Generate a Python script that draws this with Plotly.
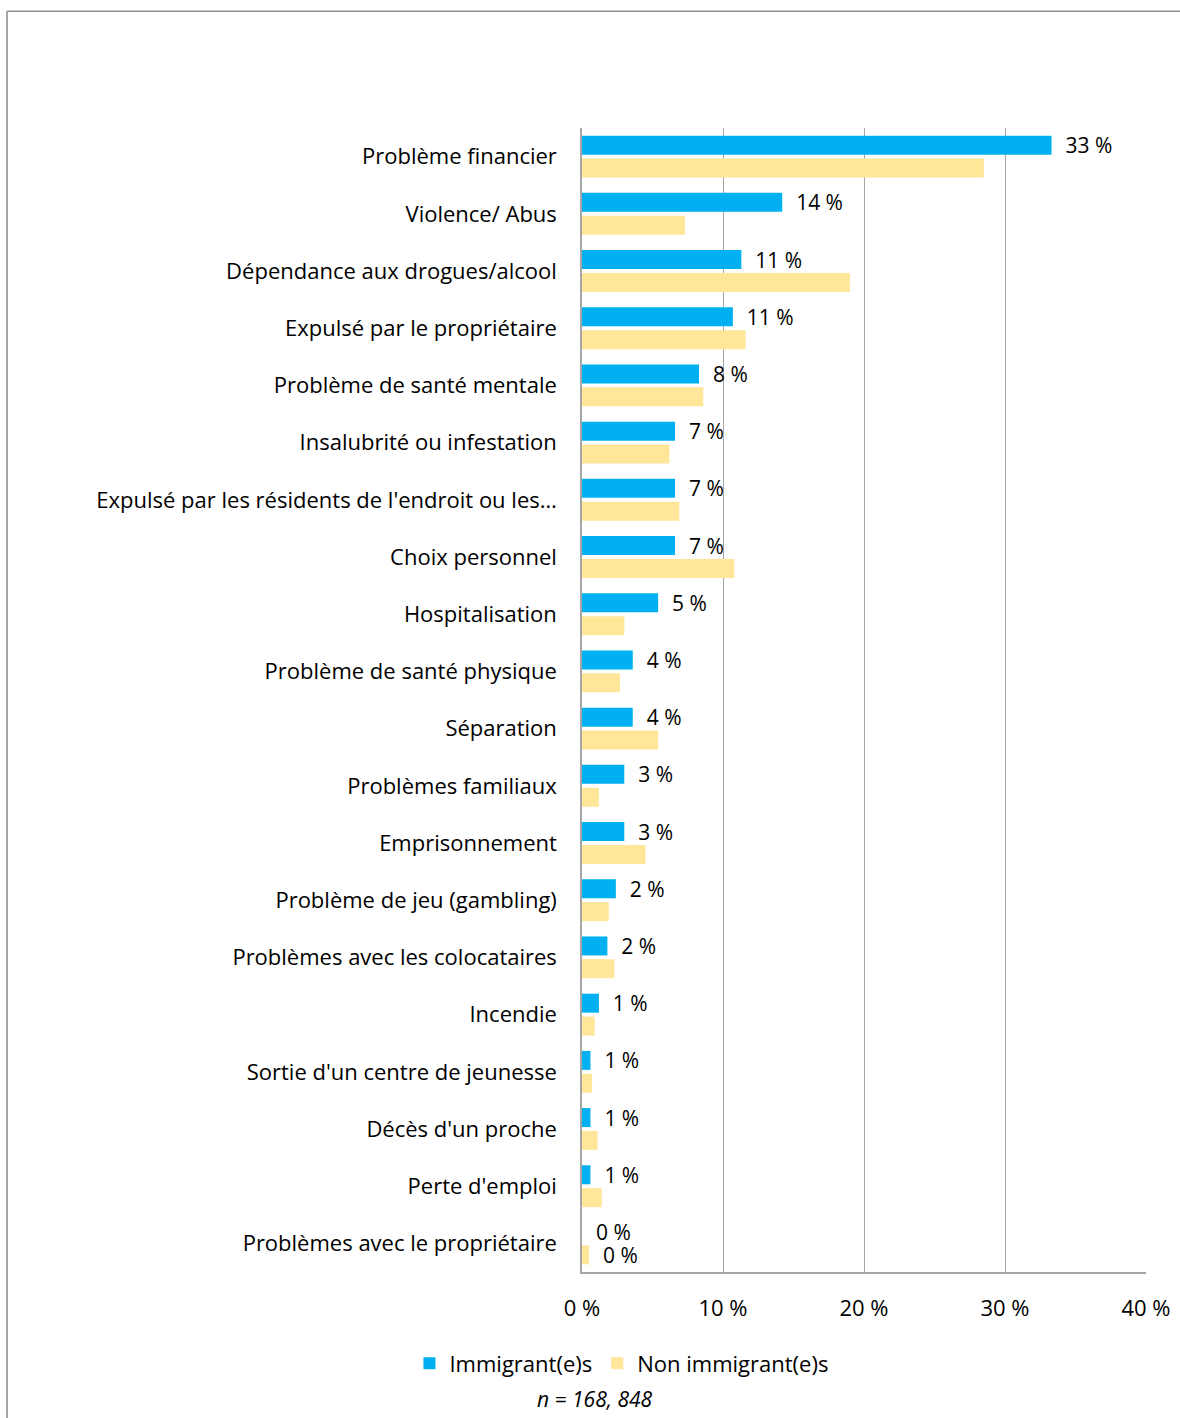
import plotly.graph_objects as go

categories = [
    "Problème financier",
    "Violence/ Abus",
    "Dépendance aux drogues/alcool",
    "Expulsé par le propriétaire",
    "Problème de santé mentale",
    "Insalubrité ou infestation",
    "Expulsé par les résidents de l'endroit ou les…",
    "Choix personnel",
    "Hospitalisation",
    "Problème de santé physique",
    "Séparation",
    "Problèmes familiaux",
    "Emprisonnement",
    "Problème de jeu (gambling)",
    "Problèmes avec les colocataires",
    "Incendie",
    "Sortie d'un centre de jeunesse",
    "Décès d'un proche",
    "Perte d'emploi",
    "Problèmes avec le propriétaire",
]

immigrants = [33.3, 14.2, 11.3, 10.7, 8.3, 6.6, 6.6, 6.6, 5.4, 3.6,
              3.6, 3.0, 3.0, 2.4, 1.8, 1.2, 0.6, 0.6, 0.6, 0.0]
non_immigrants = [28.5, 7.3, 19.0, 11.6, 8.6, 6.2, 6.9, 10.8, 3.0, 2.7,
                  5.4, 1.2, 4.5, 1.9, 2.3, 0.9, 0.7, 1.1, 1.4, 0.5]

x_ticks = [0, 10, 20, 30, 40]
x_tick_labels = ["0 %", "10 %", "20 %", "30 %", "40 %"]

BLUE = "#00B0F0"
YELLOW = "#FFE699"
FONT = "Open Sans"
SIZE = 22
LABEL_SIZE = 21

imm_text = ["  %d %%" % round(v) for v in immigrants]
# only the smallest non-immigrant value carries a label
non_text = [""] * (len(non_immigrants) - 1) + ["  %d %%" % round(non_immigrants[-1])]

fig = go.Figure()
fig.add_trace(go.Bar(
    y=categories, x=immigrants, orientation="h", name="Immigrant(e)s",
    marker=dict(color=BLUE, line=dict(width=0)),
    text=imm_text, textposition="outside", cliponaxis=False, constraintext="none",
    textfont=dict(family=FONT, size=LABEL_SIZE, color="#000000"),
))
fig.add_trace(go.Bar(
    y=categories, x=non_immigrants, orientation="h", name="Non immigrant(e)s",
    marker=dict(color=YELLOW, line=dict(width=0)),
    text=non_text, textposition="outside", cliponaxis=False, constraintext="none",
    textfont=dict(family=FONT, size=LABEL_SIZE, color="#000000"),
))

fig.update_layout(
    width=1180, height=1418,
    margin=dict(l=582, r=34, t=128, b=146),
    paper_bgcolor="white", plot_bgcolor="white",
    barmode="group", bargap=0.2, bargroupgap=0.17,
    font=dict(family=FONT, size=SIZE, color="#000000"),
    showlegend=True,
    legend=dict(orientation="h", x=0.07, xanchor="center", y=-0.08, yanchor="middle",
                font=dict(family=FONT, size=SIZE), itemwidth=30, traceorder="normal"),
    xaxis=dict(
        range=[0, 40], tickvals=x_ticks, ticktext=x_tick_labels, automargin=False,
        showgrid=True, gridcolor="#A6A6A6", gridwidth=1,
        zeroline=False, showline=True, linecolor="#A6A6A6", linewidth=1.5,
        ticks="", ticklabelstandoff=16, tickfont=dict(family=FONT, size=SIZE),
    ),
    yaxis=dict(
        autorange="reversed", showgrid=False, zeroline=False, automargin=False,
        showline=True, linecolor="#A6A6A6", linewidth=1.5,
        ticks="", ticklabelstandoff=19, tickfont=dict(family=FONT, size=SIZE),
    ),
    annotations=[dict(
        text="<i>n = 168, 848</i>", xref="paper", yref="paper",
        x=0.023, y=-0.111, xanchor="center", yanchor="middle", showarrow=False,
        font=dict(family=FONT, size=SIZE - 1),
    )],
    shapes=[
        dict(type="line", xref="paper", yref="paper", x0=-1.0195, x1=1.1, y0=1.102, y1=1.102,
             line=dict(color="#8C8C8C", width=1.5)),
        dict(type="line", xref="paper", yref="paper", x0=-1.0195, x1=-1.0195, y0=1.102, y1=-0.13,
             line=dict(color="#A6A6A6", width=2)),
    ],
)

fig.write_html("out.html")
